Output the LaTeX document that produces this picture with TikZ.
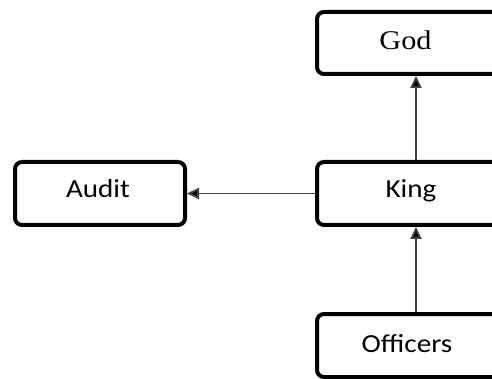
\documentclass[tikz,border=0pt]{standalone}
\usepackage{fontspec}
\setmainfont{Carlito}
\newfontfamily\godfont{Liberation Serif}
\usetikzlibrary{arrows.meta}
\newcommand\wideText[1]{\scalebox{1.12}[1]{#1}}
\tikzset{
  box/.style={draw=black, line width=4pt, rounded corners=7pt, inner sep=0pt, fill=white},
  lbl/.style={anchor=base, inner sep=0pt, font=\fontsize{26}{30}\selectfont, text=black},
  conn/.style={draw=black!75, line width=1.8pt, -{Triangle[width=11pt,length=12pt,fill=black]}}
}
\begin{document}
\begin{tikzpicture}[x=1pt,y=-1pt]
\useasboundingbox (0,0) rectangle (492,379);
\fill[white] (0,0) rectangle (492,379);
\clip (0,0) rectangle (492,379);
\node[box, minimum width=170pt, minimum height=63pt] (audit) at (100,193.5) {};
\node[box, minimum width=200pt, minimum height=63pt] (king) at (417,193.5) {};
\node[box, minimum width=200pt, minimum height=62pt] (god) at (417,43) {};
\node[box, minimum width=200pt, minimum height=63pt] (officers) at (417,345.5) {};
\node[lbl] (tAudit) at (98,198) {\wideText{Audit}};
\node[lbl] (tKing) at (411,198) {\wideText{King}};
\node[lbl, font=\fontsize{27}{30}\selectfont\godfont] (tGod) at (405.5,50) {\wideText{God}};
\node[lbl] (tOfficers) at (407,352) {\wideText{Officers}};
\draw[conn] ([xshift=-1pt]king.north) -- ([xshift=-1pt]god.south);
\draw[conn] ([xshift=-1pt]officers.north) -- ([xshift=-1pt]king.south);
\draw[conn] (king.west) -- (audit.east);
\end{tikzpicture}
\end{document}
